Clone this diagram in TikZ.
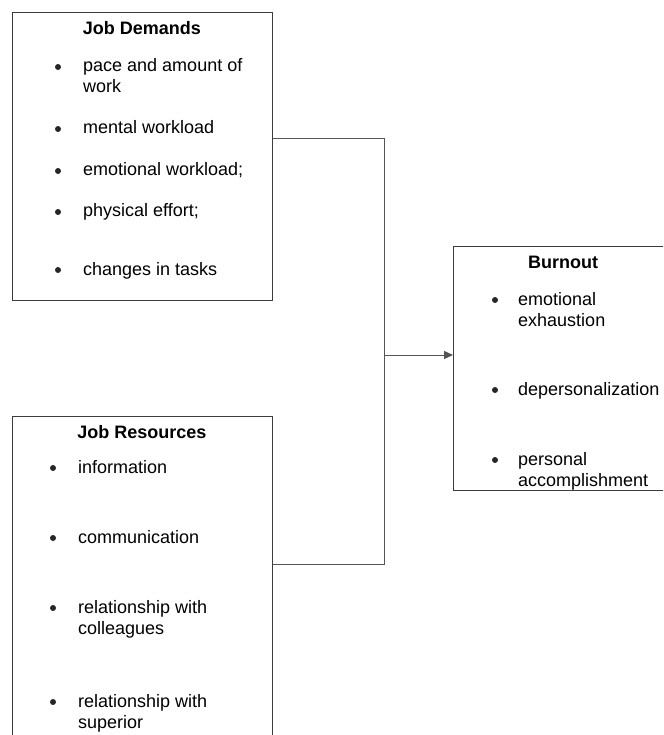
\documentclass[tikz,border=0pt]{standalone}
\usepackage{fontspec}
\setmainfont{Liberation Sans}
\usetikzlibrary{arrows.meta, positioning}
\definecolor{boxline}{RGB}{60,60,60}
\definecolor{wire}{RGB}{85,85,85}

\begin{document}
\begin{tikzpicture}[x=1pt, y=-1pt,
  panel/.style={rectangle, draw=boxline, line width=0.9pt, anchor=north west, inner sep=0pt},
  head/.style={anchor=base, inner sep=0pt, font=\fontsize{18}{21}\selectfont\bfseries},
  item/.style={anchor=base west, align=left, inner sep=0pt, font=\fontsize{18}{21}\selectfont},
  dot/.style={circle, fill=black!85, inner sep=0pt, minimum size=6pt},
  link/.style={line width=1pt, draw=wire},
  arr/.style={link, -{Triangle[length=9pt, width=8pt]}}
]
  \useasboundingbox (0,0) rectangle (663,735);
  \clip (0,0) rectangle (663,735);

  % boxes
  \node[panel, minimum width=260pt, minimum height=288pt] (dem) at (12,12) {};
  \node[panel, minimum width=260pt, minimum height=340pt] (res) at (12,416) {};
  \node[panel, minimum width=220pt, minimum height=244pt] (bur) at (453,246) {};

  % Job Demands
  \node[head] (demt) at (142,35) {Job Demands};
  \node[dot] (dd1) at (58,67) {};
  \node[item] (d1) at (83,93) {pace and amount of\\work};
  \node[dot] (dd2) at (58,129) {};
  \node[item] (d2) at (83,134) {mental workload};
  \node[dot] (dd3) at (58,171) {};
  \node[item] (d3) at (83,176) {emotional workload;};
  \node[dot] (dd4) at (58,212) {};
  \node[item] (d4) at (83,217) {physical effort;};
  \node[dot] (dd5) at (58,270) {};
  \node[item] (d5) at (83,275) {changes in tasks};

  % Job Resources
  \node[head] (rest) at (142,438) {Job Resources};
  \node[dot] (rd1) at (53,468) {};
  \node[item] (r1) at (78,473) {information};
  \node[dot] (rd2) at (53,538) {};
  \node[item] (r2) at (78,543) {communication};
  \node[dot] (rd3) at (53,608) {};
  \node[item] (r3) at (78,634) {relationship with\\colleagues};
  \node[dot] (rd4) at (53,702) {};
  \node[item] (r4) at (78,728) {relationship with\\superior};

  % Burnout
  \node[head] (burt) at (563,268) {Burnout};
  \node[dot] (bd1) at (495,300) {};
  \node[item] (b1) at (518,326) {emotional\\exhaustion};
  \node[dot] (bd2) at (495,390) {};
  \node[item] (b2) at (518,395) {depersonalization};
  \node[dot] (bd3) at (495,460) {};
  \node[item] (b3) at (518,486) {personal\\accomplishment};

  % connectors
  \coordinate (hub) at (384,355);
  \draw[link] (dem.north east) ++(0,127) -| (hub);
  \draw[link] (res.north east) ++(0,148) -| (hub);
  \draw[arr] (hub) -- (bur.west |- hub);
\end{tikzpicture}
\end{document}
